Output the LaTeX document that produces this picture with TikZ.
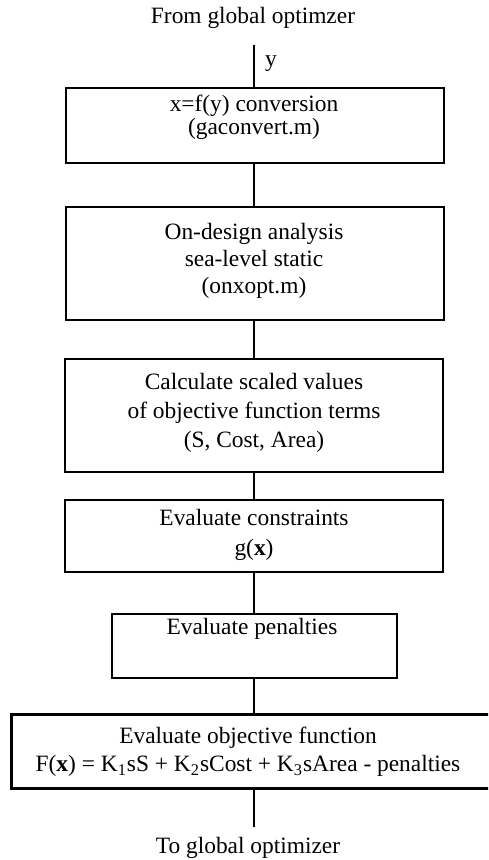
\documentclass[tikz,border=0pt]{standalone}
\usepackage{fontspec}
\setmainfont{Liberation Serif}
\begin{document}
\begin{tikzpicture}[x=0.5pt,y=-0.5pt,
  flowbox/.style={draw,line width=1.4pt,rectangle,inner sep=0pt},
  boxtext/.style={align=center,inner sep=0pt,font=\fontsize{11.7}{13.5}\selectfont},
  link/.style={line width=1.1pt}]
\useasboundingbox (0,0) rectangle (488,860);
\clip (0,0) rectangle (488,860);

% process boxes (sizes in pixel units)
\node[flowbox,minimum width=189pt,minimum height=37.5pt] (b1) at (255,125.5) {};
\node[flowbox,minimum width=189pt,minimum height=56.5pt] (b2) at (255,263.5) {};
\node[flowbox,minimum width=189pt,minimum height=56.5pt] (b3) at (254,415.5) {};
\node[flowbox,minimum width=189pt,minimum height=36pt] (b4) at (254,536) {};
\node[flowbox,minimum width=142.5pt,minimum height=32pt] (b5) at (254.5,646) {};
% the last box runs on past the right margin
\node[rectangle,inner sep=0pt,minimum width=250pt,minimum height=36.5pt] (b6) at (262,751.5) {};
\draw[line width=1.4pt] (b6.north east) -- (b6.north west) -- (b6.south west) -- (b6.south east);

% box texts
\node[boxtext,font=\fontsize{11.7}{11.5}\selectfont] (t1) at (254,117.5) {x=f(y) conversion\\(gaconvert.m)};
\node[boxtext] (t2) at (254,261) {On-design analysis\\sea-level static\\(onxopt.m)};
\node[boxtext,font=\fontsize{11.7}{14.5}\selectfont] (t3) at (254,413) {Calculate scaled values\\of objective function terms\\(S, Cost, Area)};
\node[boxtext,font=\fontsize{11.7}{15}\selectfont] (t4) at (254,535) {Evaluate constraints\\g(\textbf{x})};
\node[boxtext] (t5) at (252,629) {Evaluate penalties};
\node[boxtext,font=\fontsize{11.7}{14}\selectfont] (t6) at (248,752) {Evaluate objective function\\F(\textbf{x}) = K\textsubscript{1}sS + K\textsubscript{2}sCost + K\textsubscript{3}sArea - penalties};

% entry and exit
\node[boxtext] (src) at (253,18) {From global optimzer};
\node[boxtext] (dst) at (248,848) {To global optimizer};
\coordinate (in) at (254,45);
\coordinate (out) at (254,827);
\node[boxtext] (ylab) at (271,64) {y};

% connectors
\draw[link] (in) -- (in |- b1.north);
\draw[link] (b1.south -| in) -- (b2.north -| in);
\draw[link] (b2.south -| in) -- (b3.north -| in);
\draw[link] (b3.south -| in) -- (b4.north -| in);
\draw[link] (b4.south -| in) -- (b5.north -| in);
\draw[link] (b5.south -| in) -- (b6.north -| in);
\draw[link] (b6.south -| out) -- (out);
\end{tikzpicture}
\end{document}
